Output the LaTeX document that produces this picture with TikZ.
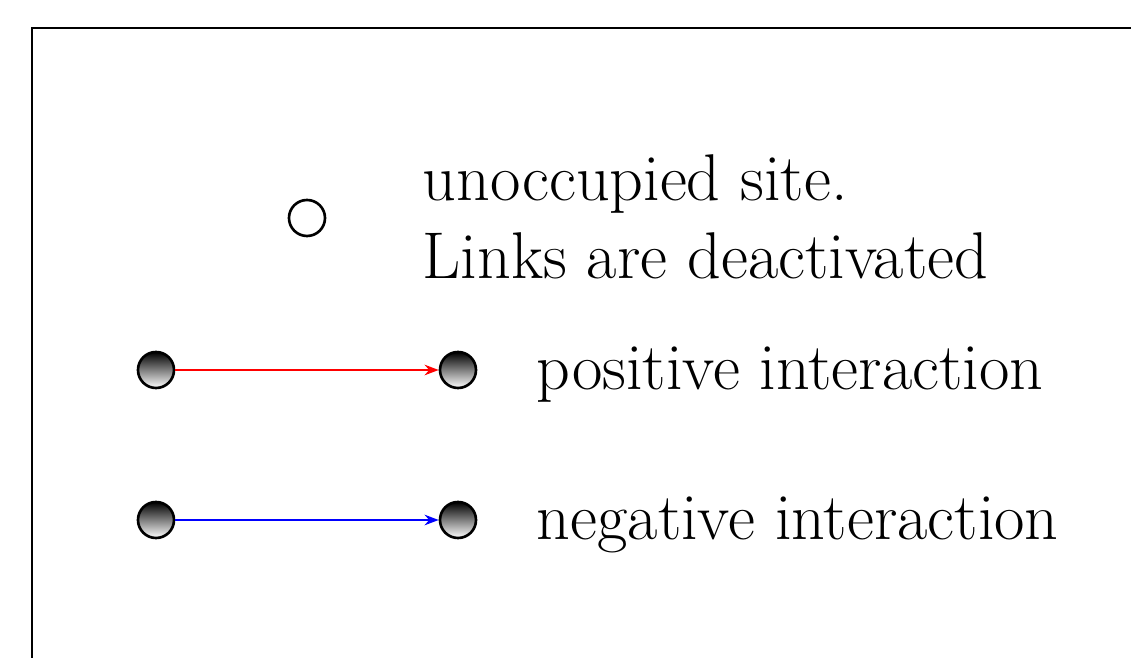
\documentclass[tikz,border=0pt]{standalone}
\usetikzlibrary{arrows.meta}
\begin{document}
\begin{tikzpicture}[x=0.01cm,y=0.01cm,
  site/.style={circle,draw=black,line width=0.75pt,minimum size=0.36cm,inner sep=0pt},
  occ/.style={site,top color=black,bottom color=white},
  lab/.style={anchor=base west,inner sep=0pt,font=\fontsize{18.8}{22.2}\selectfont},
  link/.style={line width=0.6pt,-{Stealth[length=4pt,width=3pt]}}]
\useasboundingbox (0,0) rectangle (1131,658);
\clip (0,0) rectangle (1131,658);
\draw[line width=0.65pt] (32,-20) -- (32,630) -- (1160,630);
\node[site] (empty) at (307,440) {};
\node[lab,align=left] (t1) at (422,379) {unoccupied site.\\Links are deactivated};
\node[occ] (a1) at (156,288) {};
\node[occ] (b1) at (458,288) {};
\node[lab] (t2) at (536,268) {positive interaction};
\node[occ] (a2) at (156,138) {};
\node[occ] (b2) at (458,138) {};
\node[lab] (t3) at (536,118) {negative interaction};
\draw[link,red] (a1) -- (b1);
\draw[link,blue] (a2) -- (b2);
\end{tikzpicture}
\end{document}
